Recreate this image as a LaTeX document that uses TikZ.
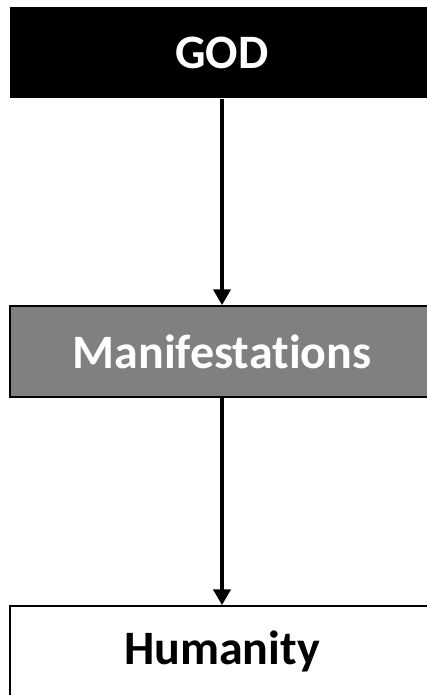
\documentclass[tikz,border=0pt]{standalone}
\usepackage{fontspec}
\setmainfont[Ligatures=NoCommon]{Carlito}
\usetikzlibrary{arrows.meta}
\begin{document}
\begin{tikzpicture}[x=1pt,y=-1pt,
  box/.style={rectangle, minimum width=424pt, minimum height=91pt, inner sep=0pt,
    font=\fontsize{48}{52}\selectfont\bfseries, line width=1.5pt},
  flow/.style={line width=4pt, -{Triangle[width=17pt,length=16pt]}}]
\useasboundingbox (0,0) rectangle (427,695);
\clip (0,0) rectangle (427,695);
\node[box, fill=black, text=white] (god) at (222,52.5) {GOD};
\node[box, fill=black!50, draw=black, text=white] (man) at (222,351.5) {Manifestations};
\node[box, fill=white, draw=black, text=black] (hum) at (222,651.5) {Humanity};
\draw[flow] (god.south) -- (man.north);
\draw[flow] (man.south) -- (hum.north);
\end{tikzpicture}
\end{document}
